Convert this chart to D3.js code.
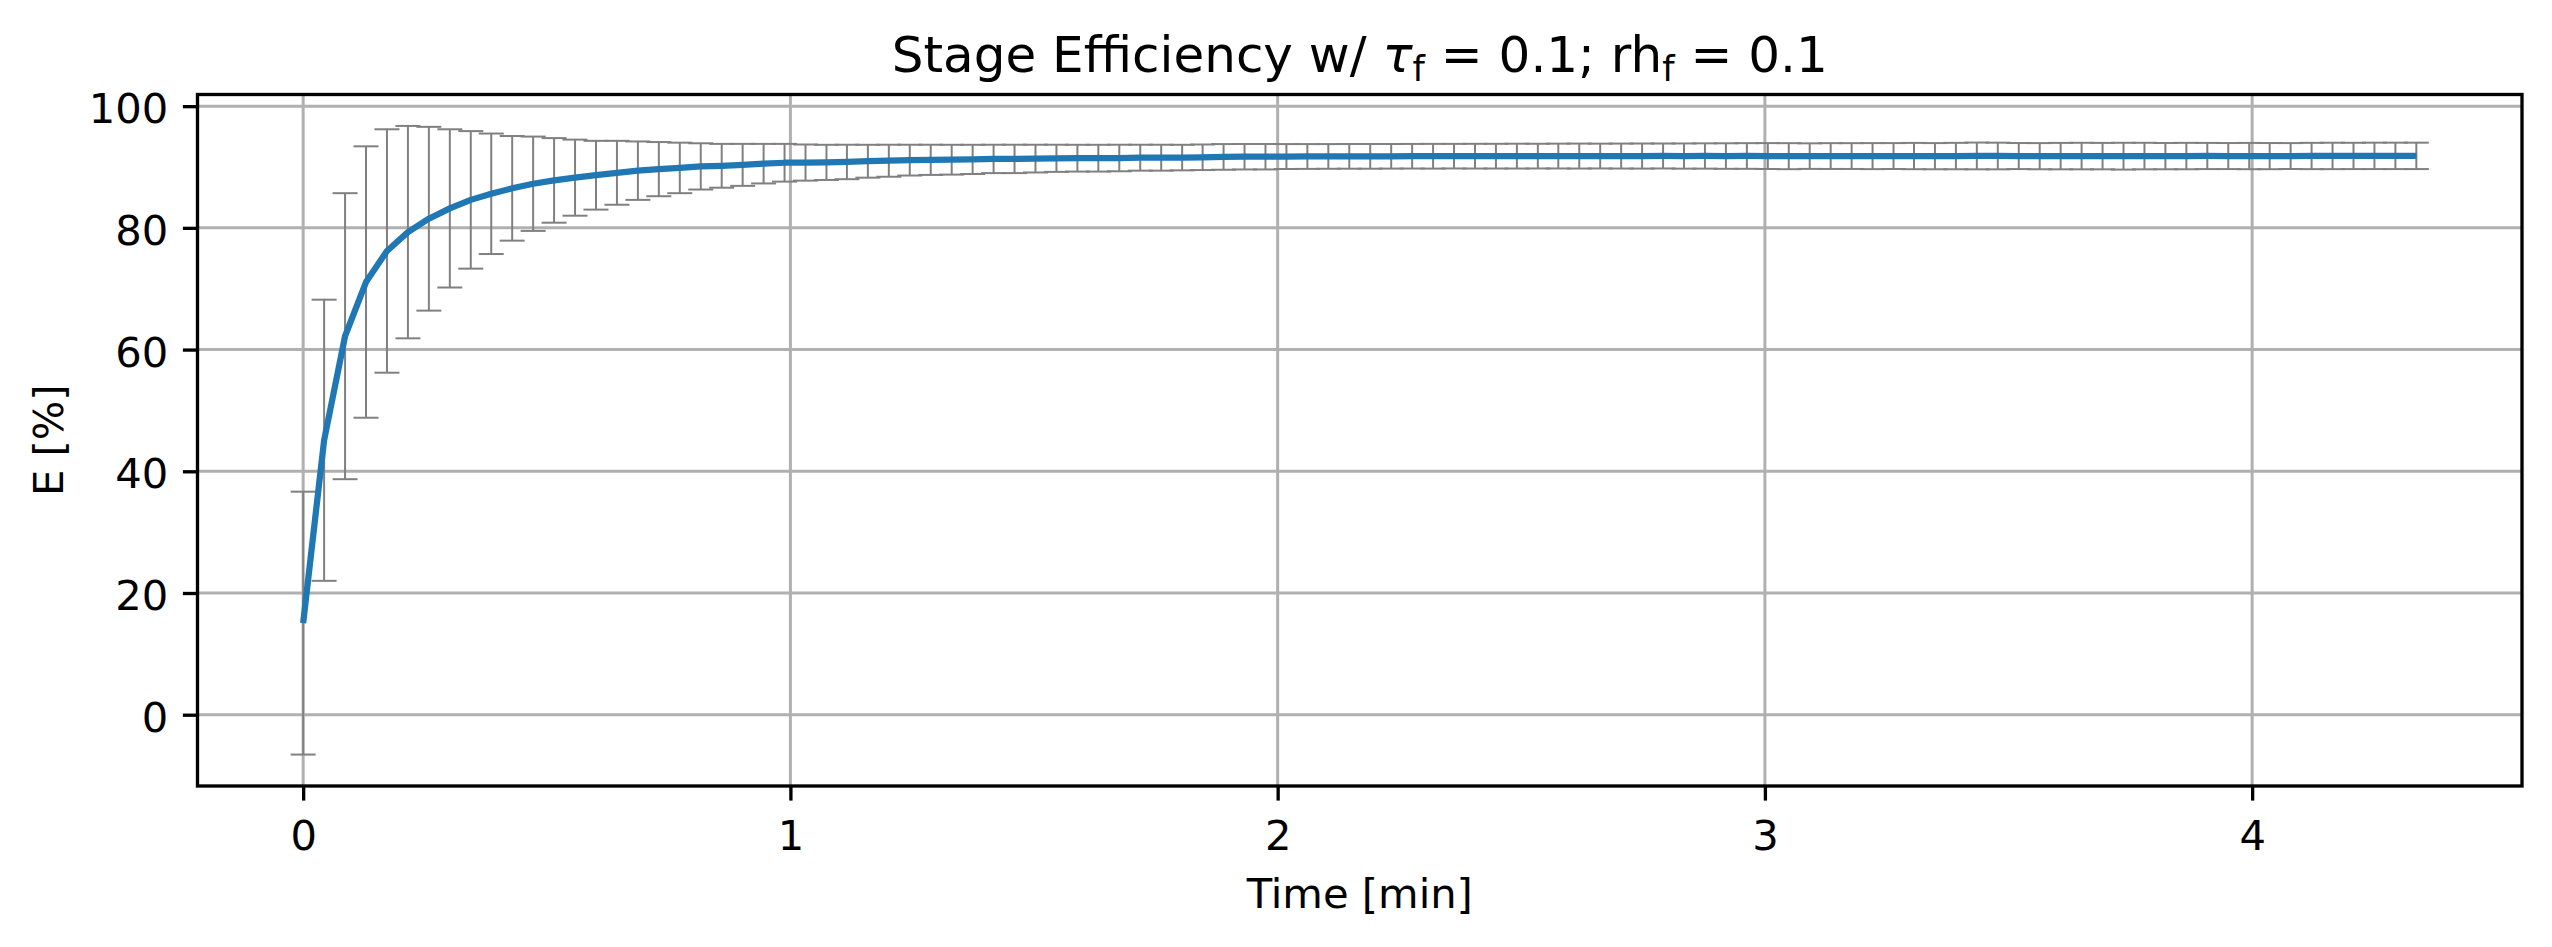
<!DOCTYPE html>
<html>
<head>
<meta charset="utf-8">
<script src="https://cdn.jsdelivr.net/npm/d3@7"></script>
<style>
  body { margin: 0; background: #fff; }
  svg { display: block; font-family: "DejaVu Sans", sans-serif; }
</style>
</head>
<body>
<div id="chart"></div>
<script>
// time stamps of each stage sample [min]
const times = [
  0, 0.043, 0.086, 0.129, 0.172, 0.215, 0.258, 0.301, 0.344, 0.386,
  0.429, 0.472, 0.515, 0.558, 0.601, 0.644, 0.687, 0.730, 0.773, 0.816,
  0.859, 0.902, 0.945, 0.988, 1.031, 1.074, 1.116, 1.159, 1.202, 1.245,
  1.288, 1.331, 1.374, 1.417, 1.460, 1.503, 1.546, 1.589, 1.632, 1.675,
  1.718, 1.761, 1.804, 1.846, 1.889, 1.932, 1.975, 2.018, 2.061, 2.104,
  2.147, 2.190, 2.233, 2.276, 2.319, 2.362, 2.405, 2.448, 2.491, 2.534,
  2.576, 2.619, 2.662, 2.705, 2.748, 2.791, 2.834, 2.877, 2.920, 2.963,
  3.006, 3.049, 3.092, 3.135, 3.178, 3.221, 3.264, 3.306, 3.349, 3.392,
  3.435, 3.478, 3.521, 3.564, 3.607, 3.650, 3.693, 3.736, 3.779, 3.822,
  3.865, 3.908, 3.951, 3.994, 4.036, 4.079, 4.122, 4.165, 4.208, 4.251,
  4.294, 4.337
];

// mean stage efficiency [%]
const efficiency = [
  15.05, 45.1, 62.2, 71.1, 76.2, 79.3, 81.5, 83.2, 84.6, 85.6,
  86.5, 87.25, 87.8, 88.25, 88.65, 89.05, 89.4, 89.65, 89.85, 90.1,
  90.2, 90.35, 90.55, 90.7, 90.73, 90.76, 90.83, 90.95, 91.03, 91.13,
  91.18, 91.2, 91.25, 91.33, 91.33, 91.38, 91.43, 91.45, 91.45, 91.48,
  91.53, 91.53, 91.55, 91.6, 91.66, 91.69, 91.69, 91.72, 91.73, 91.74,
  91.75, 91.75, 91.76, 91.77, 91.77, 91.78, 91.78, 91.78, 91.79, 91.79,
  91.8, 91.8, 91.8, 91.8, 91.8, 91.81, 91.8, 91.81, 91.8, 91.81,
  91.8, 91.78, 91.79, 91.8, 91.8, 91.79, 91.8, 91.8, 91.78, 91.8,
  91.82, 91.81, 91.8, 91.78, 91.79, 91.8, 91.79, 91.78, 91.8, 91.79,
  91.8, 91.81, 91.8, 91.8, 91.79, 91.8, 91.81, 91.82, 91.82, 91.83,
  91.83, 91.83
];

// +/- spread of the efficiency [%]
const spread = [
  21.6, 23.1, 23.5, 22.3, 20.0, 17.45, 15.1, 13.0, 11.3, 9.9,
  8.6, 7.75, 6.95, 6.25, 5.65, 5.25, 4.8, 4.45, 4.15, 3.8,
  3.6, 3.45, 3.25, 3.1, 2.97, 2.89, 2.83, 2.7, 2.63, 2.53,
  2.48, 2.45, 2.4, 2.33, 2.33, 2.28, 2.23, 2.2, 2.2, 2.18,
  2.13, 2.13, 2.1, 2.1, 2.11, 2.09, 2.09, 2.05, 2.04, 2.03,
  2.03, 2.03, 2.02, 2.02, 2.03, 2.02, 2.03, 2.03, 2.04, 2.03,
  2.04, 2.05, 2.04, 2.05, 2.06, 2.05, 2.07, 2.08, 2.1, 2.11,
  2.13, 2.14, 2.1, 2.12, 2.12, 2.14, 2.13, 2.16, 2.15, 2.17,
  2.2, 2.19, 2.14, 2.15, 2.17, 2.18, 2.17, 2.2, 2.18, 2.16,
  2.17, 2.15, 2.14, 2.16, 2.15, 2.13, 2.16, 2.17, 2.16, 2.17,
  2.17, 2.17
];

const xTicks = [0, 1, 2, 3, 4];
const yTicks = [0, 20, 40, 60, 80, 100];

const width = 2552, height = 947;
const margin = { top: 94.5, right: 30, bottom: 161, left: 197.5 };
const innerWidth = width - margin.left - margin.right;
const innerHeight = height - margin.top - margin.bottom;
const fontSize = 41.67;

const data = times.map((t, i) => ({ t, e: efficiency[i], s: spread[i] }));

// matplotlib style 5% padding around the data extent
function padded(lo, hi) {
  const p = (hi - lo) * 0.05;
  return [lo - p, hi + p];
}

const x = d3.scaleLinear()
  .domain(padded(d3.min(times), d3.max(times)))
  .range([0, innerWidth]);
const y = d3.scaleLinear()
  .domain(padded(d3.min(data, d => d.e - d.s), d3.max(data, d => d.e + d.s)))
  .range([innerHeight, 0]);

const svg = d3.select('#chart').append('svg')
  .attr('width', width).attr('height', height);
svg.append('rect').attr('width', width).attr('height', height).attr('fill', '#fff');

const g = svg.append('g').attr('transform', `translate(${margin.left},${margin.top})`);

// grid
g.append('g').selectAll('line').data(xTicks).enter().append('line')
  .attr('x1', d => x(d)).attr('x2', d => x(d)).attr('y1', 0).attr('y2', innerHeight)
  .attr('stroke', '#b0b0b0').attr('stroke-width', 3);
g.append('g').selectAll('line').data(yTicks).enter().append('line')
  .attr('x1', 0).attr('x2', innerWidth).attr('y1', d => y(d)).attr('y2', d => y(d))
  .attr('stroke', '#b0b0b0').attr('stroke-width', 3);

// error bars
const capHalf = 12.5;
const bars = g.append('g').attr('stroke', '#808080').attr('stroke-width', 2).attr('fill', 'none');
bars.selectAll('.stem').data(data).enter().append('line')
  .attr('class', 'stem')
  .attr('x1', d => x(d.t)).attr('x2', d => x(d.t))
  .attr('y1', d => y(d.e - d.s)).attr('y2', d => y(d.e + d.s));
bars.selectAll('.cap-hi').data(data).enter().append('line')
  .attr('class', 'cap-hi')
  .attr('x1', d => x(d.t) - capHalf).attr('x2', d => x(d.t) + capHalf)
  .attr('y1', d => y(d.e + d.s)).attr('y2', d => y(d.e + d.s));
bars.selectAll('.cap-lo').data(data).enter().append('line')
  .attr('class', 'cap-lo')
  .attr('x1', d => x(d.t) - capHalf).attr('x2', d => x(d.t) + capHalf)
  .attr('y1', d => y(d.e - d.s)).attr('y2', d => y(d.e - d.s));

// mean line
const line = d3.line().x(d => x(d.t)).y(d => y(d.e));
g.append('path').datum(data).attr('d', line)
  .attr('fill', 'none').attr('stroke', '#1f77b4').attr('stroke-width', 6.25)
  .attr('stroke-linejoin', 'round').attr('stroke-linecap', 'butt');

// spines
g.append('rect').attr('width', innerWidth).attr('height', innerHeight)
  .attr('fill', 'none').attr('stroke', '#000').attr('stroke-width', 3.33);

// axes
const xAxis = g.append('g').attr('transform', `translate(0,${innerHeight})`)
  .call(d3.axisBottom(x).tickValues(xTicks).tickFormat(d3.format('d'))
    .tickSize(14.6).tickPadding(14.6).tickSizeOuter(0));
const yAxis = g.append('g')
  .call(d3.axisLeft(y).tickValues(yTicks).tickFormat(d3.format('d'))
    .tickSize(14.6).tickPadding(14.6).tickSizeOuter(0));

[xAxis, yAxis].forEach(a => {
  a.select('.domain').remove();
  a.selectAll('.tick line').attr('stroke', '#000').attr('stroke-width', 3.33);
  a.selectAll('.tick text').attr('fill', '#000')
    .style('font-family', '"DejaVu Sans", sans-serif').style('font-size', fontSize + 'px');
});
xAxis.selectAll('.tick text').attr('dy', '0.84em');
yAxis.selectAll('.tick text').attr('dy', '0.4em');

// axis labels
g.append('text').attr('x', innerWidth / 2).attr('y', 908 - margin.top)
  .attr('text-anchor', 'middle').style('font-size', fontSize + 'px').text('Time [min]');
g.append('text').attr('transform', `translate(${63 - margin.left},${innerHeight / 2}) rotate(-90)`)
  .attr('text-anchor', 'middle').style('font-size', fontSize + 'px').text('E [%]');

// title with math subscripts
const title = svg.append('text').attr('x', margin.left + innerWidth / 2).attr('y', 72)
  .attr('text-anchor', 'middle').style('font-size', '50px');
title.append('tspan').text('Stage Efficiency w/ ');
title.append('tspan').style('font-style', 'italic').text('\u03C4');
title.append('tspan').attr('dy', 9).style('font-size', '35px').text('f');
title.append('tspan').attr('dy', -9).text(' = 0.1; rh');
title.append('tspan').attr('dy', 9).style('font-size', '35px').text('f');
title.append('tspan').attr('dy', -9).text(' = 0.1');
</script>
</body>
</html>
